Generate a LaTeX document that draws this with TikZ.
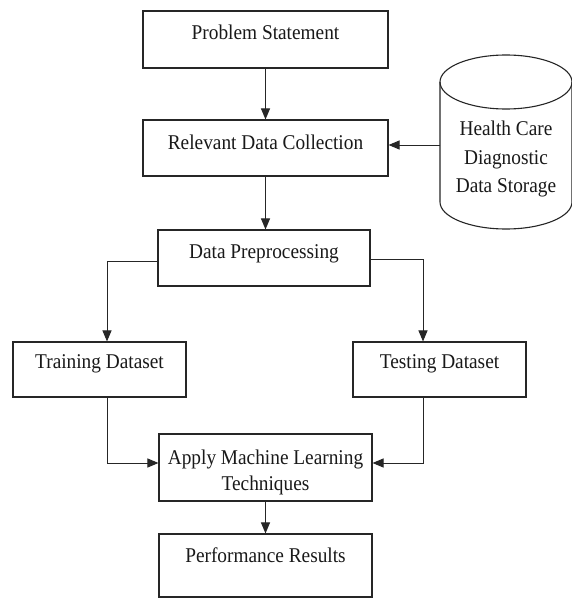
\documentclass[tikz,border=0pt]{standalone}
\usepackage{fontspec}
\setmainfont[FakeStretch=0.92]{Liberation Serif}
\usetikzlibrary{arrows.meta,calc}
\tikzset{
  box/.style={draw=black!85, line width=1.1pt, fill=white, minimum width=#1, inner sep=0pt},
  txt/.style={anchor=base, inner sep=0pt, font=\fontsize{21}{28.5}\selectfont, text=black!90},
  conn/.style={draw=black!85, line width=1pt},
  arr/.style={conn, -{Triangle[length=11pt,width=9pt]}},
}
\begin{document}
\begin{tikzpicture}[x=1pt,y=-1pt]
\useasboundingbox (0,0) rectangle (572,599);
\fill[white] (0,0) rectangle (572,599);

\node[box=245pt, minimum height=57pt, label={[txt, name=psT, yshift=-29pt]north:Problem Statement}] (ps) at (265.5,39.5) {};
\node[box=245pt, minimum height=56pt, label={[txt, name=rdcT, yshift=-30pt]north:Relevant Data Collection}] (rdc) at (265.5,148) {};
\node[box=212pt, minimum height=56pt, label={[txt, name=dpT, yshift=-29pt]north:Data Preprocessing}] (dp) at (264,258) {};
\node[box=173pt, minimum height=55pt, label={[txt, name=trT, yshift=-27pt]north:Training Dataset}] (tr) at (99.5,369.5) {};
\node[box=173pt, minimum height=55pt, label={[txt, name=teT, yshift=-27pt]north:Testing Dataset}] (te) at (439.5,369.5) {};
\node[box=213pt, minimum height=67pt,
  label={[txt, name=amlT1, yshift=-31pt]north:Apply Machine Learning},
  label={[txt, name=amlT2, yshift=-57pt]north:Techniques}] (aml) at (265.5,467.5) {};
\node[box=213pt, minimum height=63pt, label={[txt, name=prT, yshift=-29pt]north:Performance Results}] (pr) at (265.5,565.5) {};

% cylinder (data storage)
\draw[draw=black!85, line width=1.1pt, fill=white]
  (440,82) -- (440,202) arc[start angle=180, end angle=360, x radius=66, y radius=-27]
  -- (572,82);
\draw[draw=black!85, line width=1.1pt] (506,82) ellipse [x radius=66, y radius=27];
\node[txt, anchor=center, align=center] (cylT) at (506,159) {Health Care\\Diagnostic\\Data Storage};
\coordinate (cyl) at (440,145);

% connectors
\draw[arr] (ps.south) -- (rdc.north);
\draw[arr] (cyl) -- (rdc.east |- cyl);
\draw[arr] (rdc.south) -- (rdc.south |- dp.north);
\draw[arr] ($(dp.west)+(0,3)$) -| (107,0 |- tr.north);
\draw[arr] ($(dp.east)+(0,1)$) -| (423,0 |- te.north);
\draw[arr] (107,0 |- tr.south) |- ($(aml.west)+(0,-4.5)$);
\draw[arr] (423,0 |- te.south) |- ($(aml.east)+(0,-4.5)$);
\draw[arr] (aml.south) -- (pr.north);
\end{tikzpicture}
\end{document}
